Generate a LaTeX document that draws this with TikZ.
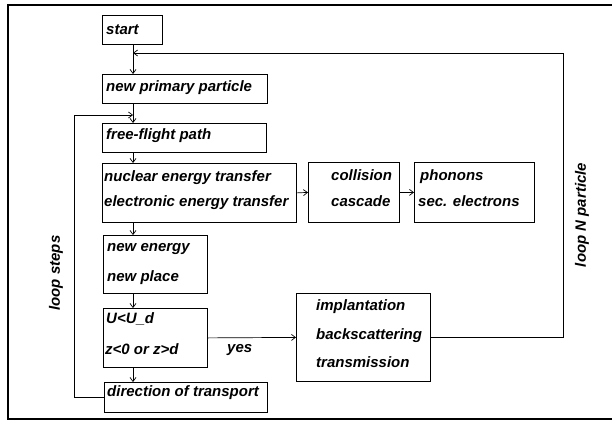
\documentclass[tikz,border=0pt]{standalone}
\usepackage{fontspec}
\setmainfont{Liberation Sans}
\usetikzlibrary{arrows.meta}
\tikzset{
  box/.style={draw, line width=0.8pt, inner sep=0pt, anchor=north west},
  txt/.style={font=\bfseries\itshape\fontsize{15}{18}\selectfont, anchor=base west, inner sep=0pt},
  rtxt/.style={font=\bfseries\itshape\fontsize{15}{18}\selectfont, rotate=90, inner sep=0pt},
  conn/.style={line width=0.7pt, -{Straight Barb[length=4pt,width=6pt]}},
}
\begin{document}
\begin{tikzpicture}[x=1pt,y=-1pt]
\useasboundingbox (0,0) rectangle (612,420);
% frame
\draw[line width=2.5pt] (625,5) -- (8,5) -- (8,419) -- (625,419);
% boxes
\node[box, minimum width=60pt,  minimum height=29pt] (start)   at (102,15)  {};
\node[box, minimum width=165pt, minimum height=29pt] (newprim) at (102,74)  {};
\node[box, minimum width=164pt, minimum height=29pt] (free)    at (102,123) {};
\node[box, minimum width=194pt, minimum height=59pt] (nuc)     at (102,163) {};
\node[box, minimum width=91pt,  minimum height=60pt] (coll)    at (308,162) {};
\node[box, minimum width=120pt, minimum height=60pt] (phon)    at (414,162) {};
\node[box, minimum width=104pt, minimum height=58pt] (newen)   at (103,235) {};
\node[box, minimum width=104pt, minimum height=59pt] (ucond)   at (103,308) {};
\node[box, minimum width=163pt, minimum height=30pt] (dir)     at (104,382) {};
\node[box, minimum width=134pt, minimum height=88pt] (impl)    at (296,293) {};
% texts
\node[txt] (t1)  at (106,35)  {start};
\node[txt] (t2)  at (106,91)  {new primary particle};
\node[txt] (t3)  at (106,139) {free-flight path};
\node[txt] (t4)  at (104,181) {nuclear energy transfer};
\node[txt] (t5)  at (104,206) {electronic energy transfer};
\node[txt] (t6)  at (331,180) {collision};
\node[txt] (t7)  at (331,206) {cascade};
\node[txt] (t8)  at (420,180) {phonons};
\node[txt] (t9)  at (418,206) {sec. electrons};
\node[txt] (t10) at (107,251) {new energy};
\node[txt] (t11) at (107,281) {new place};
\node[txt] (t12) at (106,323) {U<U\_d};
\node[txt] (t13) at (105,354) {z<0 or z>d};
\node[txt] (t14) at (107,396) {direction of transport};
\node[txt] (t15) at (316,310) {implantation};
\node[txt] (t16) at (316,339) {backscattering};
\node[txt] (t17) at (316,367) {transmission};
\node[txt] (yes) at (227,352) {yes};
\node[rtxt] (lN) at (582,215) {loop N particle};
\node[rtxt] (lS) at (56,273) {loop steps};
% connectors
\coordinate (cx) at (133,0);
\coordinate (rx) at (563,53);
\coordinate (jn) at (133,53);
\coordinate (lx) at (74,115);
\coordinate (jf) at (133,115);
\draw[conn] (start.south -| cx) -- (newprim.north -| cx);
\draw[conn] (newprim.south -| cx) -- (free.north -| cx);
\draw[conn] (free.south -| cx) -- (nuc.north -| cx);
\draw[conn] (nuc.south -| cx) -- (newen.north -| cx);
\draw[conn] (newen.south -| cx) -- (ucond.north -| cx);
\draw[conn] (ucond.south -| cx) -- (dir.north -| cx);
\draw[conn] (nuc.east) -- (coll.west);
\draw[conn] (coll.east) -- (phon.west);
\draw[conn] (ucond.east) -- (impl.west);
\draw[conn] (impl.east) -| (rx) -- (jn);
\draw[conn] (dir.west) -| (lx) -- (jf);
\end{tikzpicture}
\end{document}
